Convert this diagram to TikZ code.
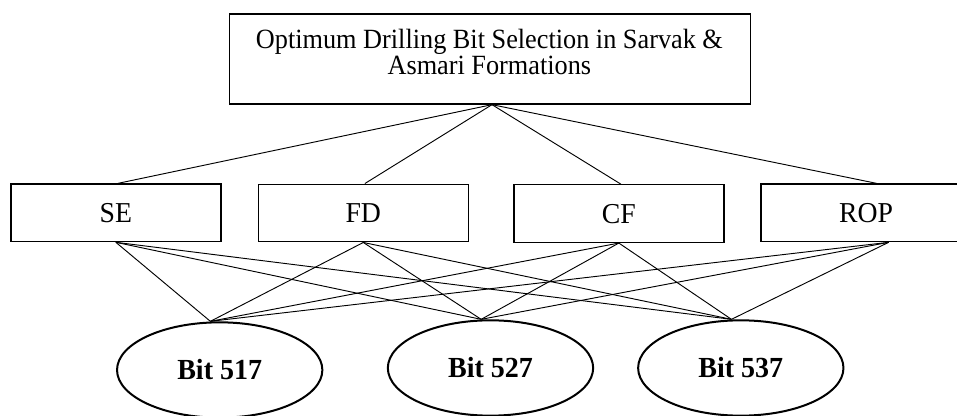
\documentclass[tikz,border=0pt]{standalone}
\usepackage{fontspec}
\setmainfont{Liberation Serif}
\usetikzlibrary{shapes.geometric}
\begin{document}
\begin{tikzpicture}[x=0.75pt,y=-0.75pt,
  mainbox/.style={draw=black, line width=1pt, rectangle, inner sep=0pt, minimum width=391pt, minimum height=67.5pt},
  critbox/.style={draw=black, line width=1pt, rectangle, inner sep=0pt, minimum width=157.5pt, minimum height=43.2pt, font=\fontsize{20.8}{24}\selectfont, text=black},
  bitnode/.style={draw=black, line width=1.5pt, ellipse, inner sep=0pt, minimum width=154pt, minimum height=71.5pt, font=\fontsize{21}{24}\selectfont\bfseries, text=black},
  link/.style={draw=black, line width=0.7pt},
  titletext/.style={align=center, font=\fontsize{19.7}{17.25}\selectfont, inner sep=0pt, text=black}
]
\useasboundingbox (0,0) rectangle (957,416);
\clip (0,0) rectangle (957,416);
% top box
\node[mainbox] (top) at (490,59) {};
\node[titletext] (title) at (489.4,52) {\scalebox{1}[1.06]{Optimum Drilling Bit Selection in Sarvak \&}\\\scalebox{1}[1.06]{Asmari Formations}};
% criteria
\node[critbox] (se) at (115.85,212.85) {\scalebox{1}[1.04]{SE}};
\node[critbox] (fd) at (363.3,213) {\scalebox{1}[1.04]{FD}};
\node[critbox] (cf) at (618.85,213.6) {\scalebox{1}[1.04]{CF}};
\node[critbox] (rop) at (866,212.85) {\scalebox{1}[1.04]{ROP}};
% bits
\node[bitnode] (b517) at (219.7,370) {\raisebox{-2pt}{\scalebox{1}[1.04]{Bit 517}}};
\node[bitnode] (b527) at (490.5,368) {\raisebox{-2pt}{\scalebox{1}[1.04]{Bit 527}}};
\node[bitnode] (b537) at (740.8,368) {\raisebox{-2pt}{\scalebox{1}[1.04]{Bit 537}}};
% top links
\draw[link] ([xshift=1.5pt]top.south) -- ([xshift=1.5pt]se.north);
\draw[link] ([xshift=1.5pt]top.south) -- ([xshift=1.2pt]fd.north);
\draw[link] ([xshift=1.5pt]top.south) -- ([xshift=1.5pt]cf.north);
\draw[link] ([xshift=1.5pt]top.south) -- ([xshift=8pt]rop.north);
% bottom links
\foreach \m in {se,fd,cf}{
  \foreach \b in {b517,b527,b537}{
    \draw[link] (\m.south) -- ([xshift=-7pt]\b.north);
  }
}
\foreach \b in {b517,b527,b537}{
  \draw[link] ([xshift=17pt]rop.south) -- ([xshift=-7pt]\b.north);
}
\end{tikzpicture}
\end{document}
